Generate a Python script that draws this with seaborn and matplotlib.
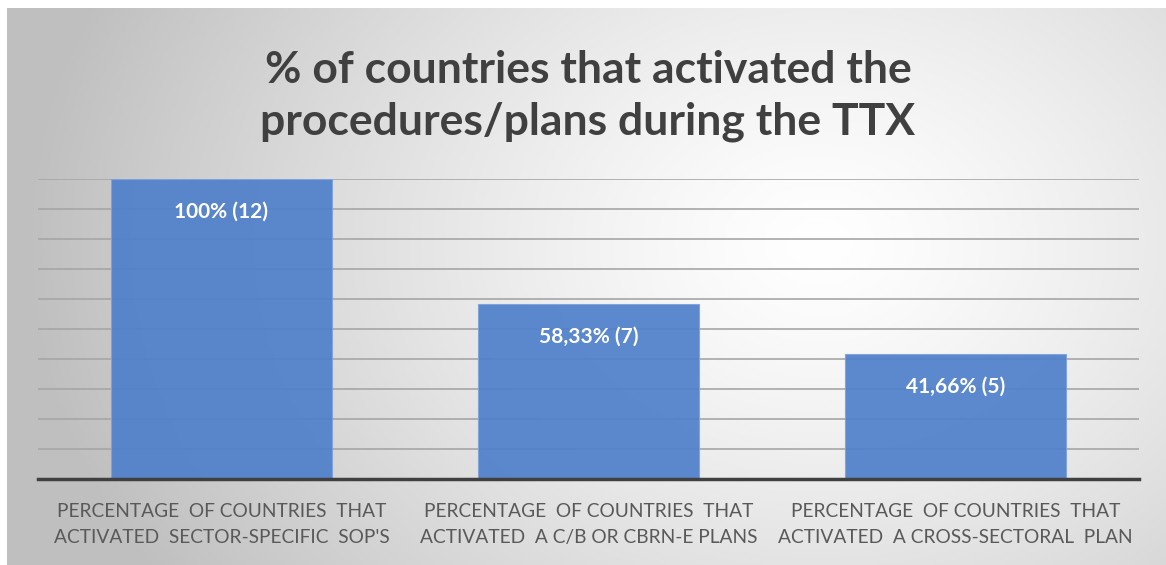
import numpy as np
import pandas as pd
import matplotlib
matplotlib.use("Agg")
import matplotlib.pyplot as plt
import seaborn as sns

categories = [
    "PERCENTAGE  OF COUNTRIES  THAT\nACTIVATED  SECTOR-SPECIFIC  SOP'S",
    "PERCENTAGE  OF COUNTRIES  THAT\nACTIVATED  A C/B OR CBRN-E PLANS",
    "PERCENTAGE  OF COUNTRIES  THAT\nACTIVATED  A CROSS-SECTORAL  PLAN",
]
values = [100.0, 58.33, 41.66]
value_labels = ["100% (12)", "58,33% (7)", "41,66% (5)"]
title = "% of countries that activated the\nprocedures/plans during the TTX"

W, H = 1166, 565
sns.set_theme(style="white")
plt.rcParams["font.family"] = ["Lato", "DejaVu Sans"]

fig = plt.figure(figsize=(W / 100, H / 100), dpi=100)
fig.patch.set_facecolor("white")

# radial gradient background
bg = fig.add_axes([7 / W, 0, 1 - 7 / W, 1 - 8 / H], zorder=0)
gw, gh = 600, 300
yy, xx = np.mgrid[0:gh, 0:gw]
cx, cy = 0.70 * gw, 0.42 * gh
d = np.sqrt(((xx - cx) / gw) ** 2 + ((yy - cy) / (gh * 1.6)) ** 2)
d = d / d.max()
shade = 1.0 - 0.25 * np.clip(d * 1.15, 0, 1) ** 1.3
img = np.dstack([shade, shade, shade])
bg.imshow(img, aspect="auto", extent=[0, 1, 0, 1], origin="upper")
bg.set_axis_off()

ax = fig.add_axes([38 / W, 1 - 479 / H, (1139 - 38) / W, (479 - 179) / H], zorder=1)
ax.patch.set_alpha(0)

df = pd.DataFrame({"cat": categories, "val": values})
sns.barplot(data=df, x="cat", y="val", ax=ax, color="#4F7FCB", width=0.6,
            saturation=1, alpha=0.92, edgecolor="#7FA2DB", linewidth=0.8, zorder=2)

ax.set_ylim(0, 100)
ax.set_xlim(-0.5, 2.5)
ax.set_yticks(np.arange(0, 101, 10))
ax.set_yticklabels([])
ax.yaxis.grid(True, color="#a6a6a6", linewidth=1.2, zorder=1)
ax.set_axisbelow(True)
for s in ["top", "right", "left"]:
    ax.spines[s].set_visible(False)
ax.spines["bottom"].set_color("#404040")
ax.spines["bottom"].set_linewidth(2.5)
ax.spines["bottom"].set_zorder(3)
ax.tick_params(axis="both", length=0)
ax.set_xlabel("")
ax.set_ylabel("")
ax.set_xticks(range(len(categories)))
ax.set_xticklabels(categories, fontsize=13.8, color="#595959", linespacing=1.65)
ax.tick_params(axis="x", pad=17)

for i, (v, lab) in enumerate(zip(values, value_labels)):
    ax.annotate(lab, xy=(i, v), xytext=(0, -33), textcoords="offset pixels",
                ha="center", va="center", color="white", fontsize=15, fontweight="bold", zorder=4)

fig.text(588 / W, 1 - 96 / H, title, ha="center", va="center", fontsize=32,
         fontweight="bold", color="#404040", linespacing=1.32)

fig.savefig("out.png", dpi=100)
